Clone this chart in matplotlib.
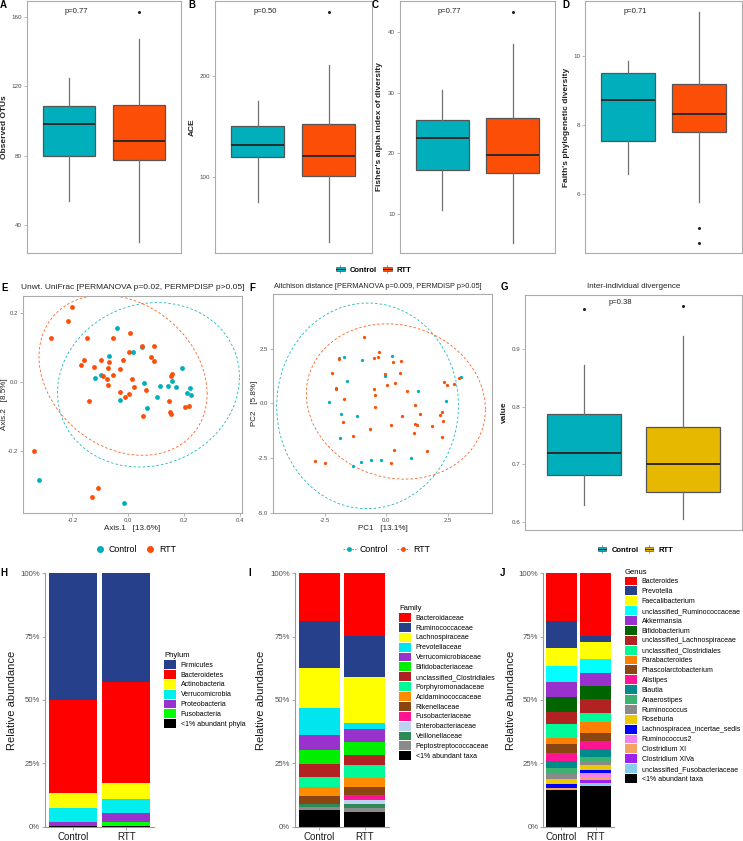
import numpy as np
import matplotlib
matplotlib.use("Agg")
import matplotlib.pyplot as plt
import matplotlib.transforms as mtransforms
from matplotlib.patches import Rectangle, Patch
from matplotlib.lines import Line2D
from matplotlib.legend_handler import HandlerBase

plt.rcParams['font.family'] = ['Liberation Sans', 'DejaVu Sans']
plt.rcParams['axes.unicode_minus'] = False

# ---------------- data ----------------
groups = ["Control", "RTT"]
TEAL, ORANGE, YELLOW = "#00AFBB", "#FC4E07", "#E7B800"

# box summaries: [lower whisker, Q1, median, Q3, upper whisker]
otus_control = [53.8, 79.8, 98.3, 108.7, 124.7]
otus_rtt = [29.9, 77.5, 88.7, 109.5, 147.6]
otus_outliers = [[], [162.9]]
ace_control = [75.9, 119.7, 132.2, 150.3, 175.6]
ace_rtt = [35.8, 101.3, 121.3, 152.3, 210.8]
ace_outliers = [[], [262.9]]
fisher_control = [10.55, 17.16, 22.45, 25.5, 30.5]
fisher_rtt = [5.2, 16.7, 19.7, 25.8, 38.1]
fisher_outliers = [[], [43.3]]
faith_control = [6.59, 7.55, 8.72, 9.52, 9.87]
faith_rtt = [5.77, 7.80, 8.33, 9.20, 11.28]
faith_outliers = [[], [5.01, 4.60]]
diverg_control = [0.629, 0.681, 0.719, 0.788, 0.873]
diverg_rtt = [0.604, 0.652, 0.700, 0.765, 0.923]
diverg_outliers = [[0.971], [0.976]]
alpha_pvalues = ["p=0.77", "p=0.50", "p=0.77", "p=0.71"]
diverg_pvalue = "p=0.38"

# Unweighted UniFrac PCoA
unifrac_control_x = [-0.039, -0.068, 0.017, 0.048, -0.118, -0.099, -0.031, 0.057, 0.067, 0.104,
                     0.113, 0.142, 0.158, 0.169, 0.193, 0.209, 0.222, 0.223, -0.321, -0.016]
unifrac_control_y = [0.158, 0.077, 0.087, 0.101, 0.011, 0.021, -0.053, -0.004, -0.077, -0.043,
                     -0.012, -0.012, 0.002, -0.014, 0.042, -0.033, -0.018, -0.037, -0.286, -0.353]
unifrac_rtt_x = [-0.202, -0.217, -0.276, -0.148, -0.054, 0.006, 0.050, 0.091, 0.001, 0.080,
                 0.092, -0.158, -0.171, -0.099, -0.069, -0.020, -0.074, -0.122, -0.030, -0.091,
                 -0.056, -0.075, -0.072, 0.012, 0.019, -0.030, -0.011, 0.004, -0.140, 0.062,
                 0.051, 0.156, 0.154, 0.147, 0.148, 0.152, 0.202, 0.218, -0.339, -0.110, -0.131]
unifrac_rtt_y = [0.217, 0.177, 0.128, 0.128, 0.128, 0.144, 0.105, 0.104, 0.088, 0.074,
                 0.060, 0.063, 0.049, 0.063, 0.058, 0.065, 0.042, 0.045, 0.037, 0.017,
                 0.021, 0.009, -0.009, 0.008, -0.015, -0.030, -0.043, -0.034, -0.054, -0.023,
                 -0.100, 0.023, 0.017, -0.055, -0.088, -0.094, -0.073, -0.069, -0.201, -0.307, -0.336]

# Aitchison PCA
aitch_control_x = [-1.92, -1.73, -1.01, -1.61, -2.04, -2.33, -1.85, -1.20, -1.90, -1.05,
                   -1.37, -0.64, 0.24, -0.07, 1.27, 2.42, 3.04, 1.01, -0.21]
aitch_control_y = [2.07, 2.10, 1.98, 1.02, 0.68, 0.07, -0.49, -0.59, -1.58, -2.68,
                   -2.89, -2.59, 2.16, 1.26, 0.56, 0.11, 1.21, -2.50, -2.58]
aitch_rtt_x = [-0.91, -1.94, -2.23, -2.07, -1.73, -1.78, -1.37, -2.91, -2.51, -0.67,
               -0.32, -0.52, -0.35, 0.26, 0.58, -0.07, 0.55, 0.01, 0.33, -0.51,
               -0.46, 0.82, -0.48, 1.15, 0.63, 1.37, 0.17, 1.16, 1.25, 1.85,
               1.13, 0.30, 1.65, 0.18, 2.34, 2.46, 2.73, 2.96, 2.24, 2.17, 2.28, 2.24]
aitch_rtt_y = [3.04, 2.02, 1.40, 0.67, 0.21, -0.84, -1.52, -2.62, -2.74, -1.16,
               2.36, 2.08, 2.10, 1.89, 1.93, 1.34, 1.38, 0.85, 0.94, 0.65,
               0.37, 0.56, -0.17, -0.09, -0.58, -0.50, -0.98, -0.96, -0.99, -1.02,
               -1.34, -2.13, -2.19, -2.73, 0.96, 0.85, 0.87, 1.14, -0.40, -0.55, -0.81, -1.54]

# taxonomic composition (% relative abundance), legend order (top of stack first)
phylum_names = ["Firmicutes", "Bacteroidetes", "Actinobacteria", "Verrucomicrobia",
                "Proteobacteria", "Fusobacteria", "<1% abundant phyla"]
phylum_colors = ["#26408B", "#FF0000", "#FFFF00", "#00EEEE", "#9932CC", "#00FF00", "#000000"]
phylum_control = [50.0, 36.8, 5.8, 5.6, 1.5, 0.1, 0.2]
phylum_rtt = [42.9, 40.0, 6.1, 5.4, 3.9, 1.5, 0.2]

family_names = ["Bacteroidaceae", "Ruminococcaceae", "Lachnospiraceae", "Prevotellaceae",
                "Verrucomicrobiaceae", "Bifidobacteriaceae", "unclassified_Clostridiales",
                "Porphyromonadaceae", "Acidaminococcaceae", "Rikenellaceae", "Fusobacteriaceae",
                "Enterobacteriaceae", "Veillonellaceae", "Peptostreptococcaceae", "<1% abundant taxa"]
family_colors = ["#FF0000", "#26408B", "#FFFF00", "#00E5EE", "#9932CC", "#00EE00", "#B22222",
                 "#00FA9A", "#FF8C00", "#8B4513", "#FF1493", "#BCD2EE", "#2E8B57", "#8B8B8B", "#000000"]
family_control = [18.8, 18.4, 16.0, 10.7, 5.8, 5.4, 5.3, 3.8, 3.7, 3.2, 0.0, 0.0, 1.3, 1.0, 6.6]
family_rtt = [24.7, 16.4, 17.8, 2.5, 5.2, 5.2, 3.7, 5.3, 3.4, 3.4, 1.7, 1.9, 1.6, 1.3, 5.9]

genus_names = ["Bacteroides", "Prevotella", "Faecalibacterium", "unclassified_Ruminococcaceae",
               "Akkermansia", "Bifidobacterium", "unclassified_Lachnospiraceae",
               "unclassified_Clostridiales", "Parabacteroides", "Phascolarctobacterium",
               "Alistipes", "Blautia", "Anaerostipes", "Ruminococcus", "Roseburia",
               "Lachnospiracea_incertae_sedis", "Ruminococcus2", "Clostridium XI",
               "Clostridium XIVa", "unclassified_Fusobacteriaceae", "<1% abundant taxa"]
genus_colors = ["#FF0000", "#26408B", "#FFFF00", "#00FFFF", "#9932CC", "#006400", "#B22222",
                "#00FA9A", "#FF7F00", "#8B4513", "#FF1493", "#008B8B", "#3CB371", "#8B8989",
                "#EEC900", "#0000FF", "#EE82EE", "#F4A460", "#A020F0", "#87CEEB", "#000000"]
genus_control = [18.8, 10.5, 7.3, 6.4, 5.9, 5.7, 5.0, 5.3, 2.5, 3.7, 3.0, 2.7, 2.3, 2.1, 2.0,
                 1.5, 0.0, 1.0, 0.0, 0.0, 14.3]
genus_rtt = [24.7, 2.4, 6.8, 5.3, 5.1, 5.4, 5.4, 3.6, 4.2, 3.4, 3.2, 2.9, 1.7, 1.4, 2.0,
             1.4, 1.5, 1.3, 1.1, 1.1, 16.1]

# ---------------- figure ----------------
W, H, DPI = 743, 841, 100
fig = plt.figure(figsize=(W / DPI, H / DPI), dpi=DPI)

def px_axes(x0, y0, x1, y1):
    return fig.add_axes([x0 / W, 1 - y1 / H, (x1 - x0) / W, (y1 - y0) / H])

def ftext(x, y, s, **kw):
    return fig.text(x / W, 1 - y / H, s, **kw)

FRAME = "#ABABAB"
TICKC = "#4D4D4D"

def style_frame(ax, size=4.5):
    for sp in ax.spines.values():
        sp.set_color(FRAME)
        sp.set_linewidth(0.8)
    ax.tick_params(color=FRAME, labelcolor=TICKC, labelsize=size, length=2, width=0.6, pad=1.5)

def box_panel(ax, summaries, outliers, colors, ylim, yticks):
    stats = [dict(whislo=s[0], q1=s[1], med=s[2], q3=s[3], whishi=s[4], fliers=o)
             for s, o in zip(summaries, outliers)]
    b = ax.bxp(stats, positions=[1, 2], widths=0.75, patch_artist=True, showcaps=False,
               manage_ticks=False,
               boxprops=dict(edgecolor="#555555", linewidth=0.9),
               medianprops=dict(color="#2B2B2B", linewidth=1.4),
               whiskerprops=dict(color="#707070", linewidth=0.9),
               flierprops=dict(marker="o", markersize=2.2, markerfacecolor="#222222",
                               markeredgecolor="none"))
    for patch, c in zip(b["boxes"], colors):
        patch.set_facecolor(c)
    ax.set_xlim(0.4, 2.6)
    ax.set_ylim(*ylim)
    ax.set_yticks(yticks)
    ax.set_xticks([])
    style_frame(ax)

def trob_ellipse(x, y, level=0.95, nu=5, segments=51):
    pts = np.column_stack([x, y]).astype(float)
    n, p = pts.shape
    loc = pts.mean(0)
    w = np.ones(n)
    X = pts - loc
    for _ in range(25):
        w0 = w
        X = pts - loc
        _, d, vt = np.linalg.svd(X / np.sqrt(n), full_matrices=False)
        wX = (X @ vt.T) / d
        Q = (wX ** 2).sum(1)
        w = (nu + p) / (nu + Q)
        loc = (w[:, None] * pts).sum(0) / w.sum()
        if np.all(np.abs(w - w0) < 0.01):
            break
    sw = np.sqrt(w)[:, None] * X
    cov = sw.T @ sw / n
    dfd = n - 1
    fq = dfd / 2 * ((1 - level) ** (-2 / dfd) - 1)
    radius = np.sqrt(2 * fq)
    ang = np.linspace(0, 2 * np.pi, segments)
    circ = np.column_stack([np.cos(ang), np.sin(ang)])
    L = np.linalg.cholesky(cov)
    ell = loc + radius * circ @ L.T
    return ell[:, 0], ell[:, 1]

class BoxKey(HandlerBase):
    def create_artists(self, legend, orig, xd, yd, w, h, fontsize, trans):
        fc = orig.get_facecolor()
        x0, y0 = -xd, -yd
        r = Rectangle((x0, y0 + 0.15 * h), w, 0.7 * h, facecolor=fc, edgecolor="#555555",
                      lw=0.5, transform=trans)
        med = Line2D([x0, x0 + w], [y0 + 0.5 * h] * 2, color="#2B2B2B", lw=0.7, transform=trans)
        w1 = Line2D([x0 + 0.5 * w] * 2, [y0 + 0.85 * h, y0 + 1.1 * h], color="#707070", lw=0.5,
                    transform=trans)
        w2 = Line2D([x0 + 0.5 * w] * 2, [y0 - 0.1 * h, y0 + 0.15 * h], color="#707070", lw=0.5,
                    transform=trans)
        return [w1, w2, r, med]

def box_legend(colors, cx, cy):
    hs = [Patch(facecolor=c, label=g) for c, g in zip(colors, groups)]
    fig.legend(hs, groups, handler_map={Patch: BoxKey()}, loc="center",
               bbox_to_anchor=(cx / W, 1 - cy / H), ncol=2, frameon=False,
               prop=dict(weight="bold", size=5.5), handlelength=1.1, handleheight=0.9,
               handletextpad=0.7, columnspacing=0.8, borderpad=0, borderaxespad=0)

def panel_label(x, y, s):
    ftext(x, y, s, ha="center", va="center", fontsize=7, fontweight="bold")

# ---- Row 1: alpha diversity ----
panels = [
    ((27, 1, 180.7, 253.3), [otus_control, otus_rtt], otus_outliers, (23.6, 169.4), [40, 80, 120, 160],
     "Observed OTUs", 5, "A", 3.5),
    ((215, 1, 371.5, 253.3), [ace_control, ace_rtt], ace_outliers, (25, 274), [100, 200],
     "ACE", 192.5, "B", 191.7),
    ((400, 1, 555, 253.3), [fisher_control, fisher_rtt], fisher_outliers, (3.45, 45.17), [10, 20, 30, 40],
     "Fisher's alpha index of diversity", 379.3, "C", 375),
    ((585, 1, 742, 253.3), [faith_control, faith_rtt], faith_outliers, (4.29, 11.60), [6, 8, 10],
     "Faith's phylogenetic diversity", 566, "D", 566),
]
for (rect, summ, outl, ylim, yt, ylab, ylx, lab, labx), pv in zip(panels, alpha_pvalues):
    ax = px_axes(*rect)
    box_panel(ax, summ, outl, [TEAL, ORANGE], ylim, yt)
    ax.text(1.1, 0.96, pv, transform=mtransforms.blended_transform_factory(ax.transData, ax.transAxes),
            ha="center", va="center", fontsize=5.5, color="#222222")
    ftext(ylx, 127, ylab, rotation=90, ha="center", va="center", fontsize=6.0,
          fontweight="bold", color="#222222")
    panel_label(labx, 5.5, lab)

box_legend([TEAL, ORANGE], 374, 270)

# ---- Row 2 ----
# E: UniFrac
axE = px_axes(23, 296, 242.3, 513.3)
for xs, ys, c in [(unifrac_control_x, unifrac_control_y, TEAL), (unifrac_rtt_x, unifrac_rtt_y, ORANGE)]:
    axE.scatter(xs, ys, s=12, color=c, linewidths=0, zorder=3)
    ex, ey = trob_ellipse(xs, ys)
    axE.plot(ex, ey, color=c, lw=0.6, ls=(0, (3, 2.5)), alpha=0.9, zorder=2)
axE.set_xlim(-0.377, 0.408)
axE.set_ylim(-0.382, 0.2504)
axE.set_xticks([-0.2, 0.0, 0.2, 0.4], ["-0.2", "0.0", "0.2", "0.4"])
axE.set_yticks([-0.2, 0.0, 0.2], ["-0.2", "0.0", "0.2"])
style_frame(axE, 4.3)
ftext(132.5, 287.5, "Unwt. UniFrac [PERMANOVA p=0.02, PERMPDISP p>0.05]", ha="center",
      va="center", fontsize=6.0, color="#222222")
ftext(132.5, 528.3, "Axis.1   [13.6%]", ha="center", va="center", fontsize=5.8, color="#222222")
ftext(4.2, 404, "Axis.2   [8.5%]", rotation=90, ha="center", va="center", fontsize=5.8,
      color="#222222")
panel_label(4.5, 287.8, "E")
hE = [Line2D([], [], marker="o", ls="none", color=c, markersize=4) for c in [TEAL, ORANGE]]
fig.legend(hE, groups, loc="center", bbox_to_anchor=(136 / W, 1 - 550 / H), ncol=2,
           frameon=False, fontsize=6.3, handlelength=1.0, handletextpad=0.5, columnspacing=1.0,
           borderpad=0, borderaxespad=0)

# F: Aitchison
axF = px_axes(273, 294.3, 492, 513)
for xs, ys, c in [(aitch_control_x, aitch_control_y, TEAL), (aitch_rtt_x, aitch_rtt_y, ORANGE)]:
    axF.scatter(xs, ys, s=5.5, color=c, linewidths=0, zorder=3)
    ex, ey = trob_ellipse(xs, ys)
    axF.plot(ex, ey, color=c, lw=0.6, ls=(0, (3, 2.5)), alpha=0.9, zorder=2)
axF.set_xlim(-4.61, 4.29)
axF.set_ylim(-5.02, 4.98)
axF.set_xticks([-2.5, 0.0, 2.5], ["-2.5", "0.0", "2.5"])
axF.set_yticks([-5.0, -2.5, 0.0, 2.5], ["-5.0", "-2.5", "0.0", "2.5"])
style_frame(axF, 4.3)
ftext(378, 286.7, "Aitchison distance [PERMANOVA p=0.009, PERMDISP p>0.05]", ha="center",
      va="center", fontsize=5.3, color="#222222")
ftext(382.5, 528.3, "PC1   [13.1%]", ha="center", va="center", fontsize=5.8, color="#222222")
ftext(254.5, 403.5, "PC2   [5.8%]", rotation=90, ha="center", va="center", fontsize=5.8,
      color="#222222")
panel_label(252.5, 288, "F")
hF = [Line2D([], [], marker="o", ls=(0, (2, 1.5)), lw=0.6, color=c, markersize=2.5)
      for c in [TEAL, ORANGE]]
fig.legend(hF, groups, loc="center", bbox_to_anchor=(387 / W, 1 - 550 / H), ncol=2,
           frameon=False, fontsize=6.3, handlelength=1.4, handletextpad=0.5, columnspacing=1.0,
           borderpad=0, borderaxespad=0)

# G: inter-individual divergence
axG = px_axes(525, 295, 742, 530)
box_panel(axG, [diverg_control, diverg_rtt], diverg_outliers, [TEAL, YELLOW], (0.5856, 0.9945),
          [0.6, 0.7, 0.8, 0.9])
axG.text(1.37, 0.967, diverg_pvalue, fontsize=5.5, ha="center", va="center", color="#222222",
         transform=mtransforms.blended_transform_factory(axG.transData, axG.transAxes))
ftext(633.7, 286.7, "Inter-individual divergence", ha="center", va="center", fontsize=5.8,
      color="#222222")
ftext(504.2, 412.5, "value", rotation=90, ha="center", va="center", fontsize=6.0,
      fontweight="bold", color="#222222")
panel_label(504.2, 286.7, "G")
box_legend([TEAL, YELLOW], 635.8, 550)

# ---- Row 3: composition bars ----
def bar_panel(left, spacing, names, ctrl, rtt, colors, title, leg_x, leg_y, ylab_x, lab, lab_x):
    xlo, xhi = 0.47, 2.53
    ax = px_axes(left, 573.3, left + (xhi - xlo) * spacing, 826.7)
    vals = np.array([ctrl, rtt], dtype=float) / 100.0
    bottom = np.zeros(2)
    for i in range(len(names) - 1, -1, -1):
        ax.bar([1, 2], vals[:, i], bottom=bottom, width=0.9, color=colors[i], linewidth=0)
        bottom += vals[:, i]
    ax.set_xlim(xlo, xhi)
    ax.set_ylim(0, 1)
    ax.set_xticks([1, 2], groups)
    ax.set_yticks([0, 0.25, 0.5, 0.75, 1.0], ["0%", "25%", "50%", "75%", "100%"])
    for s in ["top", "right"]:
        ax.spines[s].set_visible(False)
    for s in ["left", "bottom"]:
        ax.spines[s].set_color("#9A9A9A")
        ax.spines[s].set_linewidth(0.8)
    ax.tick_params(axis="y", color="#9A9A9A", labelcolor=TICKC, labelsize=5.6, length=2,
                   width=0.6, pad=1.5)
    ax.tick_params(axis="x", color="#9A9A9A", labelcolor="#1A1A1A", labelsize=7, length=2,
                   width=0.6, pad=1.5)
    hs = [Patch(facecolor=c, edgecolor="none") for c in colors]
    fig.legend(hs, names, loc="upper left", bbox_to_anchor=(leg_x / W, 1 - leg_y / H),
               frameon=False, fontsize=5, title=title, title_fontsize=5.5, alignment="left",
               handlelength=1.68, handleheight=1.58, labelspacing=0.15, handletextpad=0.7,
               borderpad=0, borderaxespad=0)
    ftext(ylab_x, 700, "Relative abundance", rotation=90, ha="center", va="center",
          fontsize=8, color="#1A1A1A")
    panel_label(lab_x, 573, lab)

bar_panel(45, 53, phylum_names, phylum_control, phylum_rtt, phylum_colors, "Phylum",
          164, 652, 11.7, "H", 4.2)
bar_panel(295, 45.5, family_names, family_control, family_rtt, family_colors, "Family",
          399.3, 605, 260.7, "I", 249.5)
bar_panel(543.3, 34.2, genus_names, genus_control, genus_rtt, genus_colors, "Genus",
          625, 568.5, 510.7, "J", 502.2)

fig.savefig("out.png", dpi=DPI)
